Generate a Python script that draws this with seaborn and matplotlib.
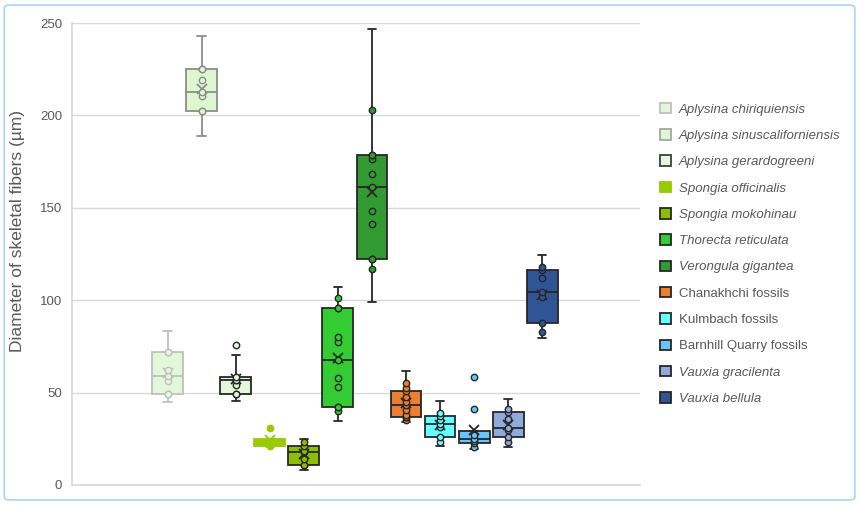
"""
Skeletal fiber diameters - box plot
"""
import numpy as np
import pandas as pd
import matplotlib.pyplot as plt
import seaborn as sns
from matplotlib.patches import Patch, FancyBboxPatch

# DATA (in µm)
species = ['Aplysina chiriquiensis', 'Aplysina sinuscaliforniensis', 'Aplysina gerardogreeni',
           'Spongia officinalis', 'Spongia mokohinau', 'Thorecta reticulata',
           'Verongula gigantea', 'Chanakhchi fossils', 'Kulmbach fossils',
           'Barnhill Quarry fossils', 'Vauxia gracilenta', 'Vauxia bellula']
italic = [True, True, True, True, True, True, True, False, False, False, True, True]

chiriquiensis = [45.0, 49.2, 49.2, 56.2, 58.9, 62.0, 71.9, 71.9, 83.2]
sinuscaliforniensis = [188.6, 202.5, 202.5, 210.3, 212.4, 218.9, 225.0, 225.0, 243.2]
gerardogreeni = [45.6, 49.2, 49.2, 54.1, 56.8, 56.8, 58.2, 70.6, 75.8]
officinalis = [20.6, 21.0, 24.0, 24.8, 31.0]
mokohinau = [8.1, 10.8, 10.8, 13.9, 18.0, 18.5, 21.1, 23.4, 24.7]
thorecta = [34.8, 40.2, 42.0, 42.0, 52.8, 57.7, 67.6, 77.5, 80.2, 96.0, 96.0, 101.2, 107.2]
verongula = [98.8, 116.8, 122.5, 122.5, 141.4, 148.3, 161.3, 168.3, 176.6, 178.4, 178.4, 203.1, 246.8]
chanakhchi = [34.3, 35.1, 36.9, 36.9, 37.8, 40.5, 43.2, 45.0, 47.7, 50.8, 52.3, 55.0, 61.6]
kulmbach = [21.1, 23.4, 26.1, 31.2, 33.0, 35.1, 37.3, 39.1, 45.4]
barnhill = [19.3, 20.4, 22.5, 24.0, 24.9, 27.0, 29.4, 41.1, 58.6]
gracilenta = [20.4, 23.1, 25.8, 29.7, 30.6, 35.5, 39.3, 41.1, 46.3]
bellula = [79.8, 82.9, 87.4, 102.0, 104.5, 112.0, 116.2, 118.0, 124.3]

all_values = [chiriquiensis, sinuscaliforniensis, gerardogreeni, officinalis, mokohinau, thorecta,
              verongula, chanakhchi, kulmbach, barnhill, gracilenta, bellula]

fills = ['#E2F8D8', '#DDF7CF', '#E4F8DA', '#99CC00', '#8DBF00', '#33CC33',
         '#339933', '#ED7D31', '#66FFFF', '#66C6FA', '#8FAADC', '#2F5597']
edges = ['#BFBFBF', '#8C8C8C', '#262626', '#99CC00', '#262626', '#262626',
         '#262626', '#262626', '#262626', '#262626', '#262626', '#262626']

df = pd.DataFrame({
    'species': np.repeat(species, [len(v) for v in all_values]),
    'value': np.concatenate(all_values),
})

sns.set_theme(style='white')
plt.rcParams['font.family'] = ['Liberation Sans', 'DejaVu Sans']

fig = plt.figure(figsize=(8.6, 5.07), dpi=100)
ax = fig.add_axes([0.0837, 0.0434, 0.6605, 0.9112])

for s, fc, ec in zip(species, fills, edges):
    sub = df[df['species'] == s]
    sns.boxplot(data=sub, x='species', y='value', order=species, color=fc, linecolor=ec,
                saturation=1, width=0.91, linewidth=1.3, showfliers=False, showmeans=True,
                capwidths=0.26,
                meanprops=dict(marker='x', markeredgecolor=ec, markerfacecolor=ec,
                               markersize=7, markeredgewidth=1.3),
                ax=ax)
    # inner points + outliers (whisker ends are not marked)
    v = sub['value'].to_numpy()
    q1, q3 = np.percentile(v, [25, 75])
    iqr = q3 - q1
    lo = v[v >= q1 - 1.5 * iqr].min()
    hi = v[v <= q3 + 1.5 * iqr].max()
    pts = v[(v != lo) & (v != hi)]
    sns.stripplot(x=[s] * len(pts), y=pts, order=species, jitter=False, color=fc,
                  edgecolor=ec, linewidth=1.0, size=4.6, ax=ax, zorder=4)

ax.set_xlim(-2.82, 13.88)
ax.set_ylim(0, 250)
ax.set_yticks(np.arange(0, 251, 50))
ax.set_xticks([])
ax.set_xlabel('')
ax.yaxis.grid(True, color='#D9D9D9', lw=1)
ax.set_axisbelow(True)
for side in ['top', 'right']:
    ax.spines[side].set_visible(False)
for side in ['left', 'bottom']:
    ax.spines[side].set_color('#D9D9D9')
ax.tick_params(axis='y', length=0, pad=7, labelsize=9.5, labelcolor='#595959')
ax.set_ylabel('Diameter of skeletal fibers (µm)', fontsize=12.5, color='#595959')
ax.yaxis.set_label_coords(-0.083, 0.549)

# legend
legend_edges = ['#C0C0C0', '#A6A6A6', '#404040', '#99CC00'] + ['#262626'] * 8
handles = [Patch(facecolor=fc, edgecolor=le, linewidth=1.3) for fc, le in zip(fills, legend_edges)]
leg = fig.legend(handles, species, loc='upper left', bbox_to_anchor=(0.767, 0.797),
                 frameon=False, fontsize=9.5, handlelength=0.85, handleheight=0.85,
                 handletextpad=0.6, labelspacing=1.02, borderpad=0, borderaxespad=0)
for t, it in zip(leg.get_texts(), italic):
    t.set_color('#595959')
    t.set_fontstyle('italic' if it else 'normal')

# outer frame
fig.patches.append(FancyBboxPatch((0.005, 0.014), 0.989, 0.976,
                                  boxstyle='round,pad=0,rounding_size=0.006',
                                  transform=fig.transFigure, fill=False,
                                  edgecolor='#A9D5F5', linewidth=1.2))

fig.savefig('out.png', dpi=100)
